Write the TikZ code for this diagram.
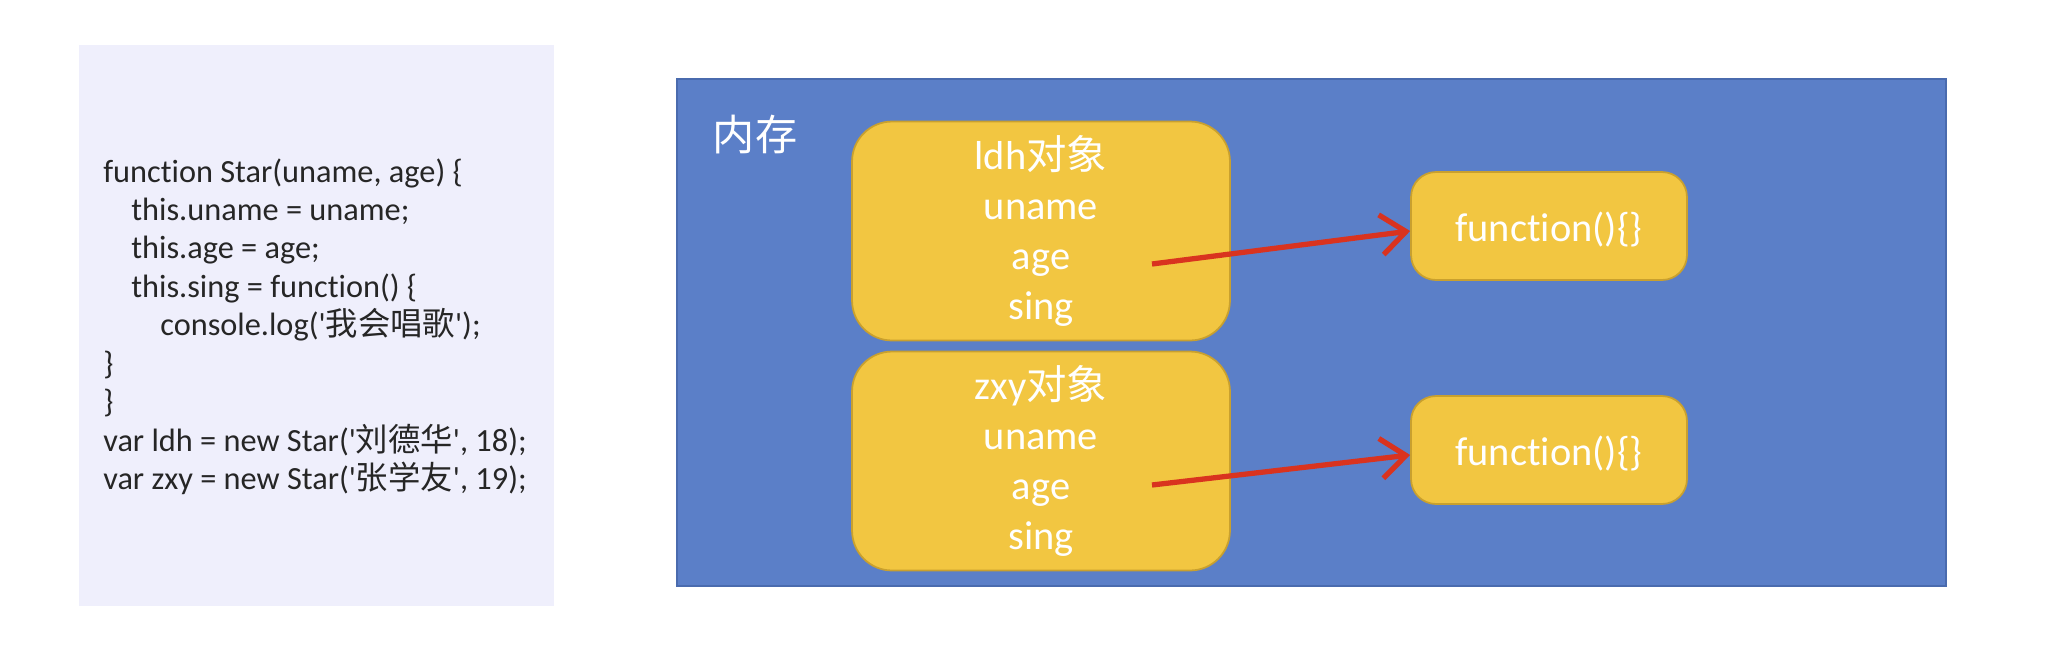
\documentclass[tikz,border=0pt]{standalone}
\usepackage{fontspec}
\setmainfont{Carlito}[Ligatures=NoCommon]
\newfontfamily\cjk{Noto Sans CJK SC}
\usetikzlibrary{arrows.meta}
\definecolor{codebg}{HTML}{EFEFFC}
\definecolor{codetext}{HTML}{262626}
\definecolor{membg}{HTML}{5B7FC8}
\definecolor{memline}{HTML}{4A6BAE}
\definecolor{objfill}{HTML}{F2C641}
\definecolor{objline}{HTML}{C9A02E}
\definecolor{ptrred}{HTML}{D9331F}
\newcommand\qmark{\textquotesingle}

\begin{document}
\begin{tikzpicture}[x=0.02cm,y=-0.02cm]
\tikzset{obj/.style = {shape=rectangle,rounded corners=0.8cm,draw=objline,line width=1pt,fill=objfill,text=white,align=center,minimum width=7.56cm,minimum height=4.38cm,font=\fontsize{23}{28.4}\selectfont}}
\tikzset{fn/.style = {shape=rectangle,rounded corners=0.5cm,draw=objline,line width=1pt,fill=objfill,text=white,minimum width=5.52cm,minimum height=2.16cm,text height=23pt,text depth=5pt,font=\fontsize{23}{28}\selectfont}}
\tikzset{ptr/.style = {-{Straight Barb[length=0.5cm,width=0.8cm]},draw=ptrred,line width=3pt}}
\useasboundingbox (0,0) rectangle (2062,664);
% code
\node[fill=codebg,minimum width=9.5cm,minimum height=11.22cm] (panel) at (316.5,325.5) {};
\node[anchor=north west,align=left,inner sep=0pt,text=codetext,font=\fontsize{18.4}{21.9}\selectfont] (code) at (103,158) {function Star(uname, age) \{\\
\hspace*{0.56cm}this.uname = uname;\\
\hspace*{0.56cm}this.age = age;\\
\hspace*{0.56cm}this.sing = function() \{\\
\hspace*{1.14cm}console.log(\qmark{\cjk 我会唱歌}\qmark);\\
\}\\
\}\\
var ldh = new Star(\qmark{\cjk 刘德华}\qmark, 18);\\
var zxy = new Star(\qmark{\cjk 张学友}\qmark, 19);};
% memory
\node[fill=membg,draw=memline,line width=1.2pt,minimum width=25.38cm,minimum height=10.14cm] (mem) at (1311.5,332.5) {};
\node[text=white,font=\cjk\fontsize{24}{24}\selectfont] (memlabel) at (755,135) {内存};
\node[obj] (ldh) at (1041,231) {ldh{\cjk 对象}\\uname\\age\\sing};
\node[obj] (zxy) at (1041,461) {zxy{\cjk 对象}\\uname\\age\\sing};
\node[fn] (fn1) at (1549,226) {function()\{\}};
\node[fn] (fn2) at (1549,450) {function()\{\}};
%edges
\coordinate (ldhage) at (1152,264);
\coordinate (zxyage) at (1152,485);
\draw[ptr] (ldhage) to ([yshift=-0.1cm]fn1.west);
\draw[ptr] (zxyage) to ([yshift=-0.1cm]fn2.west);
\end{tikzpicture}
\end{document}
